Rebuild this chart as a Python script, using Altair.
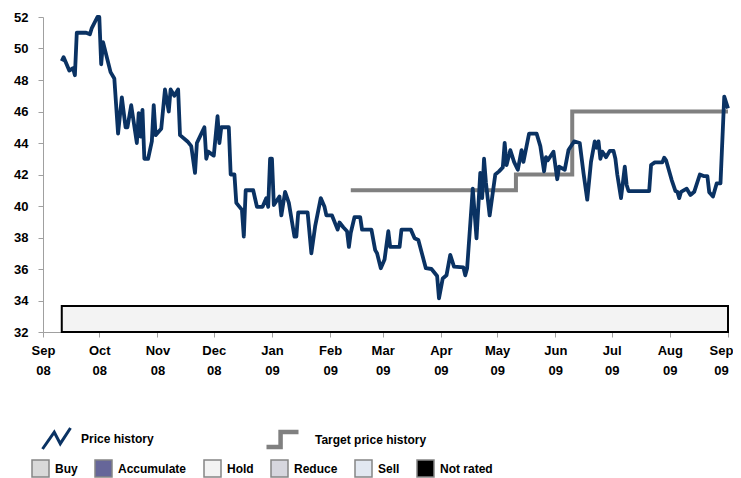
import altair as alt
import pandas as pd

price_dates = [
    "2008-09-11", "2008-09-12", "2008-09-15", "2008-09-17", "2008-09-18", "2008-09-19", "2008-09-24", "2008-09-26", "2008-09-27", "2008-09-30",
    "2008-10-01", "2008-10-02", "2008-10-03", "2008-10-07", "2008-10-09", "2008-10-11", "2008-10-13", "2008-10-15", "2008-10-16", "2008-10-18",
    "2008-10-21", "2008-10-22", "2008-10-23", "2008-10-24", "2008-10-25", "2008-10-27", "2008-10-29", "2008-10-30", "2008-10-31",
    "2008-11-03", "2008-11-05", "2008-11-07", "2008-11-08", "2008-11-10", "2008-11-12", "2008-11-13", "2008-11-17", "2008-11-19", "2008-11-21",
    "2008-11-22", "2008-11-24", "2008-11-26", "2008-11-27", "2008-11-28",
    "2008-12-01", "2008-12-03", "2008-12-04", "2008-12-05", "2008-12-09", "2008-12-10", "2008-12-12", "2008-12-13", "2008-12-16", "2008-12-17",
    "2008-12-18", "2008-12-22", "2008-12-24", "2008-12-27", "2008-12-29", "2008-12-30", "2008-12-31",
    "2009-01-01", "2009-01-02", "2009-01-05", "2009-01-06", "2009-01-08", "2009-01-10", "2009-01-13", "2009-01-14", "2009-01-15", "2009-01-20",
    "2009-01-22", "2009-01-24", "2009-01-27", "2009-01-29", "2009-01-30",
    "2009-02-02", "2009-02-05", "2009-02-06", "2009-02-08", "2009-02-10", "2009-02-11", "2009-02-12", "2009-02-14", "2009-02-17", "2009-02-18",
    "2009-02-23", "2009-02-25", "2009-02-26", "2009-02-28",
    "2009-03-02", "2009-03-04", "2009-03-05", "2009-03-10", "2009-03-11", "2009-03-16", "2009-03-18", "2009-03-20", "2009-03-24", "2009-03-27",
    "2009-03-30", "2009-03-31",
    "2009-04-02", "2009-04-04", "2009-04-06", "2009-04-08", "2009-04-13", "2009-04-14", "2009-04-15", "2009-04-18", "2009-04-20", "2009-04-22",
    "2009-04-23", "2009-04-24", "2009-04-25", "2009-04-27", "2009-04-30",
    "2009-05-02", "2009-05-04", "2009-05-05", "2009-05-06", "2009-05-08", "2009-05-10", "2009-05-12", "2009-05-14", "2009-05-15", "2009-05-18",
    "2009-05-22", "2009-05-24", "2009-05-26", "2009-05-27", "2009-05-28", "2009-05-31",
    "2009-06-02", "2009-06-03", "2009-06-06", "2009-06-08", "2009-06-11", "2009-06-14", "2009-06-16", "2009-06-18", "2009-06-20", "2009-06-22",
    "2009-06-23", "2009-06-24", "2009-06-25", "2009-06-26", "2009-06-28", "2009-06-30",
    "2009-07-02", "2009-07-03", "2009-07-04", "2009-07-06", "2009-07-08", "2009-07-09", "2009-07-10", "2009-07-21", "2009-07-22", "2009-07-24",
    "2009-07-28", "2009-07-29", "2009-07-30",
    "2009-08-02", "2009-08-04", "2009-08-05", "2009-08-06", "2009-08-07", "2009-08-10", "2009-08-12", "2009-08-14", "2009-08-17", "2009-08-19",
    "2009-08-21", "2009-08-22", "2009-08-24", "2009-08-26", "2009-08-28", "2009-08-30", "2009-09-01",
]

price_values = [
    49.2, 49.45, 48.6, 48.75, 48.3, 51.0, 51.0, 50.9, 51.3, 52.0,
    52.0, 49.0, 50.4, 48.5, 48.1, 44.6, 46.9, 45.0, 45.0, 46.4,
    44.0, 45.9, 44.4, 46.1, 43.0, 43.0, 44.1, 46.4, 44.5,
    44.9, 47.4, 46.0, 47.4, 47.0, 47.4, 44.5, 44.1, 43.8, 42.1,
    44.0, 44.5, 45.0, 43.0, 43.45,
    43.2, 45.7, 44.0, 45.0, 45.0, 42.0, 42.0, 40.2, 39.75, 38.05,
    41.0, 41.0, 39.95, 39.95, 40.5, 39.95, 43.0,
    43.0, 40.06, 40.6, 39.4, 40.9, 40.2, 38.05, 38.05, 39.6, 39.6,
    37.0, 38.7, 40.5, 39.95, 39.4,
    39.4, 38.5, 38.95, 38.65, 38.4, 37.4, 38.3, 39.3, 39.3, 38.5,
    38.5, 37.2, 37.0, 36.05,
    36.6, 38.4, 37.4, 37.4, 38.5, 38.5, 37.95, 37.84, 36.05, 36.0,
    35.56, 34.14,
    35.4, 35.6, 36.9, 36.15, 36.1, 35.6, 36.05, 41.1, 37.95, 42.1,
    40.5, 43.0, 41.5, 39.4, 42.0,
    42.2, 42.45, 44.0, 42.6, 43.55, 42.8, 42.3, 43.55, 42.8, 44.6,
    44.6, 43.8, 42.2, 43.1, 42.9, 43.45,
    41.7, 42.5, 42.3, 43.55, 44.1, 44.0, 42.1, 40.4, 42.8, 44.1,
    43.7, 44.1, 43.0, 43.45, 43.1, 43.5,
    43.5, 43.0, 42.0, 40.5, 42.5, 41.33, 40.95, 40.95, 42.6, 42.77,
    42.77, 43.07, 42.9,
    41.65, 40.95, 40.9, 40.5, 40.9, 41.1, 40.7, 40.9, 42.0, 41.9,
    41.9, 40.87, 40.6, 41.44, 41.44, 46.94, 46.2,
]

target_dates = ["2009-02-12", "2009-05-11", "2009-06-10", "2009-09-01"]
target_values = [41.0, 42.0, 46.0, 46.0]

rating_names = ["Buy", "Accumulate", "Hold", "Reduce", "Sell", "Not rated"]
rating_colors = ["#d9d9d9", "#666699", "#f3f3f3", "#d6d6de", "#e2e8f1", "#000000"]

y_ticks = [32, 34, 36, 38, 40, 42, 44, 46, 48, 50, 52]

band_start = ["2008-09-11"]
band_end = ["2009-09-01"]
band_low = [32.0]
band_high = [33.65]
band_rating = ["Hold"]

price_df = pd.DataFrame({"date": price_dates, "price": price_values, "series": "Price history"})
target_df = pd.DataFrame({"date": target_dates, "price": target_values, "series": "Target price history"})
band_df = pd.DataFrame({"start": band_start, "end": band_end, "low": band_low,
                        "high": band_high, "rating": band_rating})

x_scale = alt.Scale(
    type="utc",
    domain=[alt.DateTime(year=2008, month=9, date=1, utc=True),
            alt.DateTime(year=2009, month=9, date=1, utc=True)],
    nice=False,
)
y_scale = alt.Scale(domain=[32, 52], nice=False)


def x_axis():
    return alt.Axis(
        title=None,
        tickCount={"interval": "month", "step": 1},
        labelExpr="[utcFormat(datum.value, '%b'), utcFormat(datum.value, '%y')]",
        labelLineHeight=20,
        labelPadding=7,
        labelOffset={"condition": {"test": "utcyear(datum.value) == 2009 && utcmonth(datum.value) == 8",
                                   "value": -7},
                     "value": 0},
        tickSize=5,
        labelOverlap=False,
        labelFlush=False,
        labelBound=False,
    )


def y_axis():
    return alt.Axis(
        title=None,
        values=y_ticks,
        format="d",
        tickSize=5,
        labelPadding=10,
        labelOverlap=False,
        labelFlush=False,
        labelBound=False,
    )


band = alt.Chart(band_df).mark_rect(stroke="#000000", strokeWidth=2).encode(
    x=alt.X("start:T", scale=x_scale, axis=x_axis()),
    x2="end:T",
    y=alt.Y("low:Q", scale=y_scale, axis=y_axis()),
    y2="high:Q",
    fill=alt.Fill(
        "rating:N",
        scale=alt.Scale(domain=rating_names, range=rating_colors),
        legend=alt.Legend(
            title=None,
            orient="none",
            legendX=-12,
            legendY=442,
            direction="horizontal",
            columns=6,
            columnPadding=14,
            symbolType="square",
            symbolSize=289,
            symbolStrokeColor="#858585",
            symbolStrokeWidth=1.5,
            labelOffset=5,
            labelFontSize=12,
        ),
    ),
)

target = alt.Chart(target_df).mark_line(interpolate="step-after", strokeWidth=4).encode(
    x=alt.X("date:T", scale=x_scale, axis=x_axis()),
    y=alt.Y("price:Q", scale=y_scale, axis=y_axis()),
    stroke=alt.Stroke(
        "series:N",
        scale=alt.Scale(domain=["Target price history"], range=["#808080"]),
        legend=alt.Legend(
            title=None,
            orient="none",
            legendX=221,
            legendY=404,
            symbolType="M-1,0.47L-0.12,0.47L-0.12,-0.47L1,-0.47",
            symbolSize=1024,
            symbolStrokeWidth=4.5,
            symbolFillColor="transparent",
            labelOffset=14,
            labelFontSize=12,
        ),
    ),
)

price = alt.Chart(price_df).mark_line(strokeWidth=3.8, strokeJoin="round").encode(
    x=alt.X("date:T", scale=x_scale, axis=x_axis()),
    y=alt.Y("price:Q", scale=y_scale, axis=y_axis()),
    color=alt.Color(
        "series:N",
        scale=alt.Scale(domain=["Price history"], range=["#0a3263"]),
        legend=alt.Legend(
            title=None,
            orient="none",
            legendX=-2,
            legendY=406,
            symbolType="M-1,0.75L-0.16,-0.45L0.27,0.37L1,-0.75",
            symbolSize=784,
            symbolStrokeWidth=3,
            symbolStrokeColor="#0a0a8c",
            symbolFillColor="transparent",
            labelOffset=9,
            labelFontSize=12,
        ),
    ),
)

chart = alt.layer(band, target, price).resolve_scale(
    color="independent", stroke="independent", fill="independent"
).properties(
    width=685,
    height=315,
    autosize=alt.AutoSizeParams(type="none"),
    padding={"left": 35, "top": 9, "right": 5, "bottom": 148},
    background="#ffffff",
).configure_view(
    stroke=None
).configure_axis(
    labelFont="Liberation Sans",
    labelFontWeight="bold",
    labelFontSize=13,
    labelColor="#000000",
    domainColor="#a0a0a0",
    tickColor="#a0a0a0",
    grid=False,
).configure_legend(
    labelFont="Liberation Sans",
    labelFontWeight="bold",
    labelColor="#000000",
    padding=0,
)

chart.save("out.html", embed_options={"renderer": "svg", "actions": False})
